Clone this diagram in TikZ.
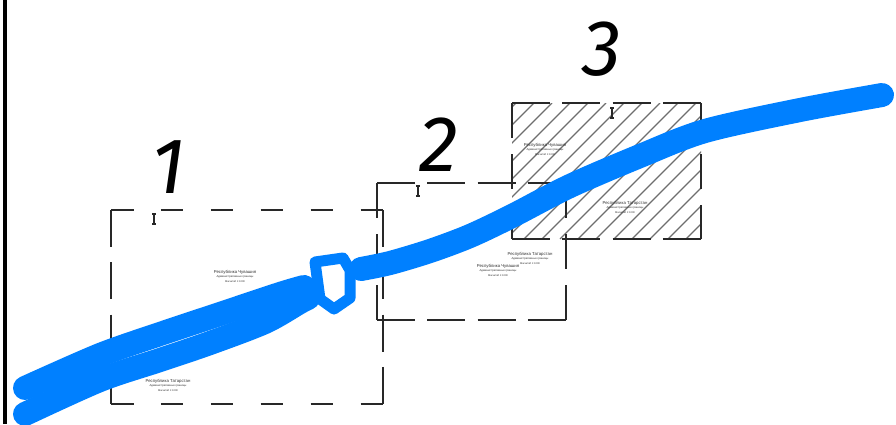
\documentclass[tikz,border=0pt]{standalone}
\usepackage{fontspec}
\setmainfont{Liberation Sans}
\newfontfamily\numfont{Fira Sans}
\usetikzlibrary{positioning}
\definecolor{riv}{RGB}{0,128,255}
\definecolor{frm}{RGB}{40,40,40}
\definecolor{hatchc}{RGB}{110,110,110}
\tikzset{
  edgeA/.style={line width=1.4pt, draw=frm, dash pattern=on 22.5pt off 27.4pt},
  edgeAv/.style={line width=1.4pt, draw=frm, dash pattern=on 37pt off 15.3pt},
  edgeB/.style={line width=1.4pt, draw=frm, dash pattern=on 38pt off 12.3pt},
  edgeBv/.style={line width=1.4pt, draw=frm, dash pattern=on 35pt off 16pt},
  river/.style={draw=riv, line width=24pt, line cap=round, line join=round},
  knot/.style={draw=riv, line width=11pt, line join=round},
  bignum/.style={font=\numfont\fontsize{79}{84}\selectfont\itshape, anchor=base, inner sep=0pt},
  lab1/.style={font=\fontsize{4.3}{5}\selectfont, text=black!80, inner sep=0pt},
  lab2/.style={font=\fontsize{2.8}{3.2}\selectfont, text=black!80, inner sep=0pt},
  lab3/.style={font=\fontsize{2.6}{3}\selectfont, text=black!80, inner sep=0pt},
  pinmark/.pic={
    \draw[line width=2.2pt, frm] (0,1) -- (0,11);
    \draw[line width=1.2pt, frm] (-2,1) -- (2,1) (-2,11) -- (2,11);
  }
}
\newcommand{\regionlabel}[4]{%
  \node[lab1] (#1a) at (#2,#3) {Республика #4};
  \node[lab2, below=1.6pt of #1a] (#1b) {Административные границы};
  \node[lab3, below=1.4pt of #1b] (#1c) {Масштаб 1:1000};
}
\begin{document}
\begin{tikzpicture}[x=1pt,y=-1pt]
\useasboundingbox (0,0) rectangle (896,424);
\fill[white] (0,0) rectangle (896,424);
% left border line
\coordinate (lt) at (5,0);
\coordinate (lb) at (5,424);
\draw[line width=3.5pt, black] (lt) -- (lb);

% box 3 hatching
\coordinate (c3a) at (512,103);
\coordinate (c3b) at (701,103);
\coordinate (c3c) at (701,239);
\coordinate (c3d) at (512,239);
\begin{scope}
  \clip (c3a) rectangle (c3c);
  \foreach \i in {-150,-132,...,200} {
    \draw[hatchc, line width=1.2pt] ({512+\i},239) -- ({512+\i+136},103);
  }
\end{scope}

% box 1
\coordinate (c1a) at (111,210);
\coordinate (c1b) at (383,210);
\coordinate (c1c) at (383,404);
\coordinate (c1d) at (111,404);
\draw[edgeA] (c1a) -- (c1b);
\draw[edgeA] (c1d) -- (c1c);
\draw[edgeAv] (c1a) -- (c1d);
\draw[edgeAv] (c1b) -- (c1c);

% box 3 frame
\draw[edgeB] (c3a) -- (c3b);
\draw[edgeB] (c3d) -- (c3c);
\draw[edgeBv] (c3a) -- (c3d);
\draw[edgeBv] (c3b) -- (c3c);

% box 2
\coordinate (c2a) at (377,183);
\coordinate (c2b) at (566,183);
\coordinate (c2c) at (566,320);
\coordinate (c2d) at (377,320);
\draw[edgeB] (c2a) -- (c2b);
\draw[edgeB] (c2d) -- (c2c);
\draw[edgeBv] (c2a) -- (c2d);
\draw[edgeBv] (c2b) -- (c2c);

% markers
\pic at (154,213) {pinmark};
\pic at (418,185) {pinmark};
\pic at (612,107) {pinmark};

% labels
\regionlabel{r1}{235}{272}{Чувашия}
\regionlabel{r2}{168}{381}{Татарстан}
\regionlabel{r3}{498}{266}{Чувашия}
\regionlabel{r4}{530}{254}{Татарстан}
\regionlabel{r5}{545}{145}{Чувашия}
\regionlabel{r6}{625}{203}{Татарстан}

% river
\draw[river] plot[smooth, tension=0.5] coordinates {(25,388) (100,355) (160,334) (220,314) (280,294) (304,287)};
\draw[river] plot[smooth, tension=0.5] coordinates {(25,414) (100,380) (160,360) (210,343) (265,322) (300,302) (308,298)};
\draw[river] plot[smooth, tension=0.5] coordinates {(361,269) (390,263) (430,251) (470,236) (512,216) (570,186) (640,156) (705,131) (800,110) (882,95)};
\draw[knot] (315,262) -- (343,258) -- (350,270) -- (350,298) -- (334,309) -- (320,299) -- cycle;

% numbers
\node[bignum] (n1) at (168,193) {1};
\node[bignum] (n2) at (439,171) {2};
\node[bignum] (n3) at (602,75) {3};
\end{tikzpicture}
\end{document}
